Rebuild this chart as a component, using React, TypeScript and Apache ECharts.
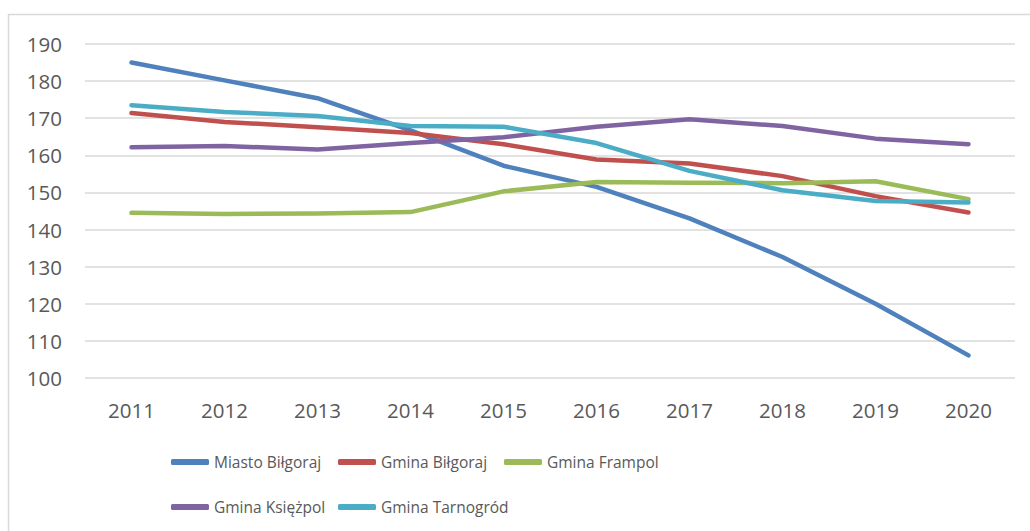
import React, { useEffect, useRef } from "react";
import * as echarts from "echarts";

const years = ["2011", "2012", "2013", "2014", "2015", "2016", "2017", "2018", "2019", "2020"];
const seriesNames = ["Miasto Biłgoraj", "Gmina Biłgoraj", "Gmina Frampol", "Gmina Księżpol", "Gmina Tarnogród"];
const miastoBilgoraj = [185.0, 180.2, 175.4, 166.7, 157.2, 151.5, 143.0, 132.6, 120.0, 106.1];
const gminaBilgoraj = [171.4, 169.0, 167.6, 166.0, 163.0, 158.9, 157.8, 154.4, 149.0, 144.6];
const gminaFrampol = [144.5, 144.2, 144.3, 144.7, 150.3, 152.8, 152.6, 152.5, 153.0, 148.2];
const gminaKsiezpol = [162.2, 162.5, 161.6, 163.3, 164.9, 167.7, 169.7, 167.9, 164.5, 163.0];
const gminaTarnogrod = [173.5, 171.7, 170.6, 167.9, 167.7, 163.3, 155.8, 150.6, 147.7, 147.3];
const seriesValues = [miastoBilgoraj, gminaBilgoraj, gminaFrampol, gminaKsiezpol, gminaTarnogrod];
const colors = ["#4F81BD", "#C0504D", "#9BBB59", "#8064A2", "#4BACC6"];

const legendPos = [
  { left: 171, top: 452 },
  { left: 338, top: 452 },
  { left: 504, top: 452 },
  { left: 171, top: 497 },
  { left: 338, top: 497 },
];

export default function App() {
  const ref = useRef<HTMLDivElement>(null);
  useEffect(() => {
    if (!ref.current) return;
    const chart = echarts.init(ref.current, null, { renderer: "svg" });
    const font = "'Open Sans', 'Noto Sans', sans-serif";
    chart.setOption({
      animation: false,
      backgroundColor: "#ffffff",
      graphic: [
        {
          type: "rect",
          shape: { x: 8.5, y: 14.5, width: 1100, height: 600 },
          style: { fill: "none", stroke: "#d9d9d9", lineWidth: 1.5 },
          silent: true,
        },
      ],
      grid: { left: 85, right: 15, top: 44, bottom: 153 },
      xAxis: {
        type: "category",
        data: years,
        boundaryGap: true,
        axisLine: { show: false },
        axisTick: { show: false },
        axisLabel: { color: "#595959", fontSize: 20.5, fontFamily: font, margin: 21 },
      },
      yAxis: {
        type: "value",
        min: 100,
        max: 190,
        interval: 10,
        axisLine: { show: false },
        axisTick: { show: false },
        axisLabel: { color: "#595959", fontSize: 20.5, fontFamily: font, margin: 23 },
        splitLine: { lineStyle: { color: "#d9d9d9", width: 1.5 } },
      },
      legend: seriesNames.map((name, i) => ({
        data: [name],
        left: legendPos[i].left,
        top: legendPos[i].top,
        padding: 0,
        itemWidth: 38,
        itemHeight: 6,
        icon: "roundRect",
        selectedMode: false,
        textStyle: { color: "#595959", fontSize: 15.5, fontFamily: font, lineHeight: 20 },
      })),
      series: seriesNames.map((name, i) => ({
        name,
        type: "line",
        data: seriesValues[i],
        symbol: "none",
        color: colors[i],
        lineStyle: { width: 4.5, color: colors[i], cap: "round", join: "round" },
        itemStyle: { color: colors[i] },
      })),
    });
    return () => chart.dispose();
  }, []);
  return (
    <div
      ref={ref}
      style={{ position: "fixed", left: 0, top: 0, width: 1030, height: 531, background: "#fff" }}
    />
  );
}
